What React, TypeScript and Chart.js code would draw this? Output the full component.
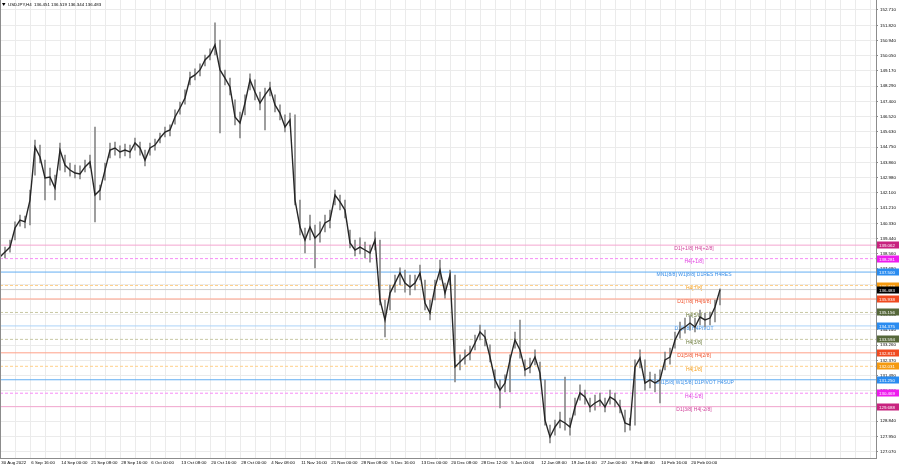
import React, { useEffect, useRef } from "react";
import { Chart, registerables } from "chart.js";

Chart.register(...registerables);

const symbolName = "USDJPY,H4";
const lastBarOHLC = [136.451, 136.519, 136.344, 136.483];
const lastPrice = 136.483;

const xLabels = [
  "30 Aug 2022", "6 Sep 16:00", "14 Sep 00:00", "21 Sep 08:00", "28 Sep 16:00", "6 Oct 00:00",
  "13 Oct 08:00", "20 Oct 16:00", "28 Oct 00:00", "4 Nov 08:00", "11 Nov 16:00", "21 Nov 00:00",
  "28 Nov 08:00", "5 Dec 16:00", "13 Dec 00:00", "20 Dec 08:00", "28 Dec 12:00", "5 Jan 00:00",
  "12 Jan 08:00", "19 Jan 16:00", "27 Jan 00:00", "3 Feb 08:00", "10 Feb 16:00", "20 Feb 00:00",
];

const yTicks = [
  152.71, 151.82, 150.94, 150.05, 149.17, 148.29, 147.4, 146.52, 145.63, 144.75,
  143.86, 142.98, 142.1, 141.21, 140.33, 139.44, 138.56, 137.68, 136.79, 135.91,
  135.03, 134.14, 133.26, 132.37, 131.49, 130.6, 129.72, 128.84, 127.95, 127.07,
];

const closes = [
  138.37, 138.66, 138.95, 140.06, 140.52, 140.41, 141.68, 144.76, 144.18, 142.96,
  143.02, 142.38, 144.58, 143.71, 143.42, 143.25, 143.19, 143.60, 143.89, 141.97,
  142.26, 143.42, 144.58, 144.70, 144.47, 144.58, 144.47, 144.99, 144.70, 144.00,
  144.70, 144.87, 145.28, 145.63, 145.75, 146.50, 147.02, 147.60, 148.76, 148.94,
  149.23, 149.81, 150.10, 150.68, 149.23, 148.76, 148.24, 146.50, 146.15, 147.31,
  148.65, 147.95, 147.31, 147.78, 148.18, 147.20, 146.73, 145.92, 146.33, 141.68,
  140.11, 139.36, 140.11, 139.48, 139.77, 140.35, 140.52, 141.97, 141.57, 141.10,
  139.19, 138.78, 138.95, 138.78, 138.61, 139.36, 135.88, 134.72, 136.28, 136.86,
  137.45, 136.86, 136.63, 136.86, 137.45, 135.70, 135.12, 136.63, 137.62, 136.28,
  137.33, 131.99, 132.28, 132.57, 132.80, 133.38, 134.02, 133.73, 132.57, 131.24,
  130.65, 131.06, 132.40, 133.56, 132.98, 131.82, 131.99, 132.57, 131.64, 128.91,
  127.93, 128.51, 128.91, 128.74, 128.51, 129.67, 130.48, 130.25, 129.67, 129.90,
  130.07, 129.67, 130.25, 130.07, 129.67, 128.74, 128.62, 131.99, 132.51, 131.06,
  131.24, 131.06, 131.24, 132.40, 132.57, 133.56, 134.14, 134.31, 134.54, 134.31,
  134.89, 134.72, 134.83, 135.47, 136.48,
];

const highs = [
  138.78, 138.95, 139.36, 140.41, 140.81, 140.75, 142.26, 145.16, 144.87, 144.00,
  143.54, 143.13, 144.99, 144.29, 143.83, 143.71, 143.66, 144.00, 144.29, 145.92,
  142.55, 143.83, 144.99, 145.05, 144.82, 144.93, 144.87, 145.28, 145.05, 144.58,
  144.99, 145.22, 145.57, 145.92, 146.04, 146.91, 147.37, 148.07, 149.11, 149.29,
  149.58, 150.10, 150.45, 151.96, 150.97, 149.23, 148.76, 147.49, 146.79, 147.78,
  149.00, 148.65, 147.95, 148.18, 148.53, 147.78, 147.20, 146.62, 146.73, 146.62,
  141.68, 140.06, 140.81, 140.23, 140.41, 140.81, 141.10, 142.26, 141.97, 141.68,
  139.94, 139.36, 139.48, 139.24, 139.07, 139.83, 139.36, 135.88, 136.75, 137.33,
  137.74, 137.62, 137.33, 137.33, 137.91, 137.04, 135.88, 137.04, 138.20, 136.86,
  137.62, 137.33, 132.69, 132.98, 133.21, 133.85, 134.43, 134.14, 133.27, 131.82,
  131.24, 131.53, 132.69, 134.02, 134.72, 132.40, 132.51, 132.98, 132.28, 131.24,
  128.62, 128.91, 129.38, 131.41, 129.03, 130.19, 130.95, 130.65, 130.19, 130.36,
  130.48, 130.19, 130.65, 130.48, 130.07, 129.49, 129.03, 132.40, 132.98, 132.40,
  131.70, 131.58, 131.82, 132.86, 133.09, 134.02, 134.60, 134.83, 134.95, 134.83,
  135.30, 135.12, 135.18, 135.88, 136.52,
];

const lows = [
  138.08, 138.32, 138.66, 139.36, 140.17, 140.06, 140.23, 143.13, 143.83, 141.68,
  142.55, 141.68, 143.42, 143.31, 143.07, 142.96, 142.90, 143.31, 143.54, 140.41,
  141.68, 142.84, 144.12, 144.29, 144.12, 144.24, 144.12, 144.58, 144.29, 143.66,
  144.29, 144.58, 144.99, 145.34, 145.40, 146.09, 146.67, 147.25, 148.36, 148.65,
  148.88, 149.46, 149.81, 150.10, 145.57, 148.36, 147.78, 146.04, 145.28, 146.62,
  148.07, 147.49, 146.91, 145.75, 147.72, 146.79, 146.33, 145.63, 145.98, 141.39,
  139.65, 138.61, 139.36, 137.74, 139.24, 139.83, 140.06, 141.39, 141.10, 140.64,
  138.90, 138.43, 138.55, 138.32, 138.08, 138.78, 135.59, 133.73, 135.30, 136.34,
  136.75, 136.34, 136.17, 136.46, 137.04, 135.30, 134.72, 135.88, 137.04, 135.99,
  136.75, 131.12, 131.82, 132.16, 132.40, 132.98, 133.56, 133.21, 132.28, 130.77,
  129.61, 130.54, 130.54, 133.09, 132.51, 131.47, 131.64, 132.11, 131.24, 128.62,
  127.58, 128.04, 128.45, 128.33, 128.04, 129.20, 130.07, 129.84, 129.38, 129.49,
  129.73, 129.38, 129.84, 129.67, 129.32, 128.22, 128.33, 128.62, 131.93, 130.65,
  130.77, 130.54, 129.90, 131.82, 132.16, 133.09, 133.67, 133.96, 134.14, 134.02,
  134.43, 134.31, 134.43, 134.60, 135.60,
];

const levelValues = [
  139.062, 138.281, 137.5, 136.719, 135.938, 135.156, 134.375,
  133.594, 132.813, 132.031, 131.25, 130.469, 129.688,
];

const levelNames = [
  "D1[+1/8] H4[+2/8]", "H4[+1/8]", "MN1[8/8] W1[8/8] D1RES H4RES", "H4[7/8]",
  "D1[7/8] H4[6/8]", "H4[5/8]", "D1[6/8] H4PIVOT", "H4[3/8]", "D1[5/8] H4[2/8]",
  "H4[1/8]", "MN1[5/8] W1[5/8] D1PIVOT H4SUP", "H4[-1/8]", "D1[3/8] H4[-2/8]",
];

// styles (not data)
const PINK = { line: "#f4a6d0", text: "#d0409a", box: "#c8237f", dash: [] as number[] };
const MAGENTA = { line: "#f78cf7", text: "#e03ce0", box: "#ee1cee", dash: [3, 2] };
const BLUE = { line: "#63aef2", text: "#3a8ee6", box: "#2a8cf0", dash: [] as number[] };
const ORANGE = { line: "#ffd08a", text: "#f5a020", box: "#f59a10", dash: [3, 2] };
const RED = { line: "#ffa088", text: "#f0502a", box: "#f04a20", dash: [] as number[] };
const OLIVE = { line: "#c8c8a4", text: "#6b7a3a", box: "#56683a", dash: [3, 2] };
const LBLUE = { line: "#acd4f8", text: "#3a8ee6", box: "#2a8cf0", dash: [] as number[] };
const levelStyles = [PINK, MAGENTA, BLUE, ORANGE, RED, OLIVE, LBLUE, OLIVE, RED, ORANGE, BLUE, MAGENTA, PINK];

const FONT = "'Liberation Sans', Arial, sans-serif";
const AXIS_FONT = 4.4;
const LABEL_FONT = 5;
const X_MAX = 175.2;
const LABEL_X = 138.8;

export default function App() {
  const ref = useRef<HTMLCanvasElement | null>(null);

  useEffect(() => {
    document.body.style.margin = "0";
    const canvas = ref.current;
    if (!canvas) return;

    const overlay = {
      id: "mtOverlay",
      beforeDatasetsDraw(chart: any) {
        const ctx = chart.ctx;
        const xs = chart.scales.x;
        const ys = chart.scales.y;
        ctx.save();
        ctx.font = `${LABEL_FONT}px ${FONT}`;
        ctx.textAlign = "center";
        ctx.textBaseline = "top";
        levelValues.forEach((v, k) => {
          ctx.fillStyle = levelStyles[k].text;
          ctx.fillText(levelNames[k], xs.getPixelForValue(LABEL_X), ys.getPixelForValue(v) + 0.5);
        });
        ctx.restore();
      },
      afterDraw(chart: any) {
        const ctx = chart.ctx;
        const ys = chart.scales.y;
        const area = chart.chartArea;
        ctx.save();
        ctx.font = `${AXIS_FONT}px ${FONT}`;
        ctx.textBaseline = "middle";
        ctx.textAlign = "left";
        const box = (v: number, bg: string) => {
          const py = Math.round(ys.getPixelForValue(v));
          ctx.fillStyle = bg;
          ctx.fillRect(area.right + 1, py - 3.5, 22, 7);
          ctx.fillStyle = "#ffffff";
          ctx.fillText(v.toFixed(3), area.right + 3, py + 0.3);
        };
        levelValues.forEach((v, k) => box(v, levelStyles[k].box));
        box(lastPrice, "#000000");

        // left frame
        ctx.strokeStyle = "#8c8c8c";
        ctx.lineWidth = 1;
        ctx.beginPath();
        ctx.moveTo(area.left + 0.5, area.top);
        ctx.lineTo(area.left + 0.5, area.bottom);
        ctx.stroke();

        // title
        ctx.fillStyle = "#000";
        ctx.beginPath();
        ctx.moveTo(2, 3);
        ctx.lineTo(5.5, 3);
        ctx.lineTo(3.75, 6);
        ctx.closePath();
        ctx.fill();
        ctx.textBaseline = "middle";
        ctx.fillText(
          `${symbolName}  ${lastBarOHLC.map((v) => v.toFixed(3)).join(" ")}`,
          8,
          5
        );
        ctx.restore();
      },
    };

    const levelSets = levelValues.map((v, k) => ({
      type: "line" as const,
      data: [{ x: 0, y: v }, { x: X_MAX, y: v }],
      borderColor: levelStyles[k].line,
      borderWidth: 1,
      borderDash: levelStyles[k].dash,
      pointRadius: 0,
      order: 3,
    }));

    const chart = new Chart(canvas, {
      type: "line",
      data: {
        datasets: [
          ...levelSets,
          {
            type: "line",
            data: [{ x: 0, y: lastPrice }, { x: X_MAX, y: lastPrice }],
            borderColor: "#cfcfcf",
            borderWidth: 1,
            pointRadius: 0,
            order: 3,
          },
          {
            type: "bar",
            data: lows.map((l, i) => ({ x: i, y: [l, highs[i]] })),
            backgroundColor: "#8a8a8a",
            barThickness: 1,
            order: 2,
          } as any,
          {
            type: "line",
            data: closes.map((c, i) => ({ x: i, y: c })),
            borderColor: "#262626",
            borderWidth: 1.4,
            pointRadius: 0,
            tension: 0,
            order: 1,
          },
        ],
      },
      options: {
        animation: false,
        responsive: false,
        devicePixelRatio: 1,
        layout: { padding: 0 },
        plugins: { legend: { display: false }, tooltip: { enabled: false }, title: { display: false } },
        scales: {
          x: {
            type: "linear",
            min: 0,
            max: X_MAX,
            offset: false,
            grid: { color: "#ebebeb", drawTicks: false, offset: false },
            border: { display: true, color: "#8c8c8c" },
            ticks: {
              autoSkip: false,
              maxRotation: 0,
              minRotation: 0,
              align: "start",
              padding: 2,
              color: "#000",
              font: { size: AXIS_FONT, family: FONT },
              callback: (value: any) => {
                const v = Number(value);
                const k = v / 6;
                return v % 6 === 0 && k < xLabels.length ? " " + xLabels[k] : "";
              },
            },
            afterBuildTicks: (s: any) => {
              const t = [];
              for (let k = 0; k * 3 <= X_MAX; k++) t.push({ value: k * 3 });
              s.ticks = t;
            },
            afterFit: (s: any) => {
              s.height = 10;
              s.paddingLeft = 0;
              s.paddingRight = 0;
              s.paddingTop = 0;
              s.paddingBottom = 0;
            },
          },
          y: {
            type: "linear",
            position: "right",
            min: 126.709,
            max: 153.29,
            grid: { color: "#ebebeb", drawTicks: true, tickLength: 2, tickColor: "#8c8c8c" },
            border: { display: true, color: "#8c8c8c" },
            ticks: {
              autoSkip: false,
              padding: 2,
              color: "#000",
              font: { size: AXIS_FONT, family: FONT },
              callback: (value: any) => Number(value).toFixed(3),
            },
            afterBuildTicks: (s: any) => {
              s.ticks = yTicks.map((v) => ({ value: v }));
            },
            afterFit: (s: any) => {
              s.width = 24;
              s.paddingLeft = 0;
              s.paddingRight = 0;
              s.paddingTop = 0;
              s.paddingBottom = 0;
            },
          },
        },
      } as any,
      plugins: [overlay],
    });

    return () => chart.destroy();
  }, []);

  return (
    <div style={{ width: 900, height: 468, position: "relative", background: "#fff" }}>
      <canvas ref={ref} width={900} height={468} style={{ display: "block", width: 900, height: 468 }} />
    </div>
  );
}
